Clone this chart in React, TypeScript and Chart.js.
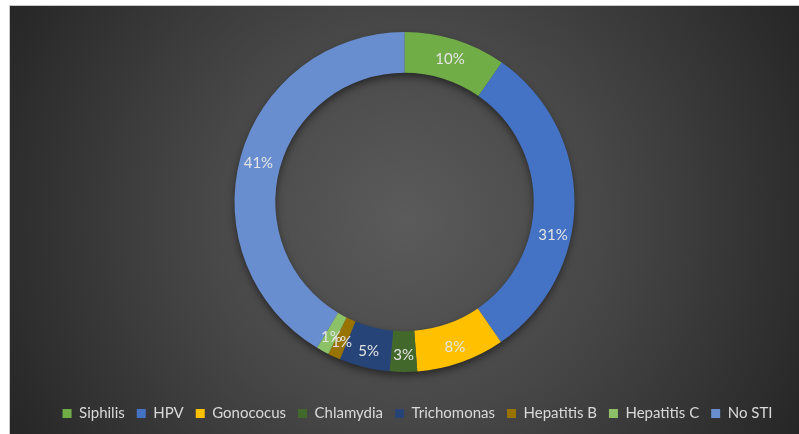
import React, { useEffect, useRef } from "react";
import { Chart, registerables } from "chart.js";

Chart.register(...registerables);

const categories = [
  "Siphilis",
  "HPV",
  "Gonococus",
  "Chlamydia",
  "Trichomonas",
  "Hepatitis B",
  "Hepatitis C",
  "No STI",
];
// estimated shares (percent); labels show them rounded
const shares = [9.7, 30.7, 8.4, 2.6, 4.8, 1.2, 1.2, 41.4];
const sliceColors = [
  "#70AD47",
  "#4472C4",
  "#FFC000",
  "#43682B",
  "#264478",
  "#997300",
  "#8CC168",
  "#698ED0",
];

const FONT = "Lato, 'Open Sans', sans-serif";
// angular nudge (degrees, clockwise) applied to a label placed off-centre in the original
const LABEL_NUDGE_DEG: Record<number, number> = { 1: 11.5 };

const ringShadow = {
  id: "ringShadow",
  beforeDatasetsDraw(chart: any) {
    const arc = chart.getDatasetMeta(0).data[0];
    if (!arc) return;
    const { x, y, innerRadius, outerRadius } = arc;
    const ctx = chart.ctx;
    ctx.save();
    ctx.shadowColor = "rgba(0,0,0,0.55)";
    ctx.shadowBlur = 9;
    ctx.shadowOffsetY = 4;
    ctx.fillStyle = "#505050";
    ctx.beginPath();
    ctx.arc(x, y, outerRadius - 1, 0, Math.PI * 2);
    ctx.arc(x, y, innerRadius + 1, 0, Math.PI * 2, true);
    ctx.fill();
    ctx.restore();
  },
};

const valueLabels = {
  id: "valueLabels",
  afterDatasetsDraw(chart: any) {
    const meta = chart.getDatasetMeta(0);
    const ctx = chart.ctx;
    ctx.save();
    ctx.font = `15px ${FONT}`;
    ctx.fillStyle = "#e4e4e4";
    ctx.textAlign = "center";
    ctx.textBaseline = "middle";
    meta.data.forEach((arc: any, i: number) => {
      const { x, y, startAngle, endAngle, innerRadius, outerRadius } = arc;
      const mid = (startAngle + endAngle) / 2 + ((LABEL_NUDGE_DEG[i] || 0) * Math.PI) / 180;
      const r = (innerRadius + outerRadius) / 2 + 2;
      ctx.fillText(
        `${Math.round(shares[i])}%`,
        x + Math.cos(mid) * r,
        y + Math.sin(mid) * r + 2
      );
    });
    ctx.restore();
  },
};

const legendShift = {
  id: "legendShift",
  afterLayout(chart: any) {
    if (chart.legend) {
      chart.legend.left += 13;
      chart.legend.right += 13;
    }
  },
};

export default function App() {
  const ref = useRef<HTMLCanvasElement | null>(null);

  useEffect(() => {
    if (!ref.current) return;
    const chart = new Chart(ref.current, {
      type: "doughnut",
      data: {
        labels: categories,
        datasets: [
          {
            data: shares,
            backgroundColor: sliceColors,
            borderWidth: 0,
          },
        ],
      },
      options: {
        responsive: false,
        animation: false,
        cutout: "76%",
        layout: { padding: { top: 26, bottom: 3, left: 0, right: 0 } },
        plugins: {
          tooltip: { enabled: false },
          legend: {
            position: "bottom",
            title: {
              display: true,
              text: "",
              font: { size: 1, lineHeight: 1 },
              padding: { top: 21, bottom: 0 },
            },
            labels: {
              boxWidth: 9,
              boxHeight: 9,
              padding: 12,
              color: "#d9d9d9",
              font: { family: FONT, size: 15 },
            },
          },
        },
      },
      plugins: [ringShadow, valueLabels, legendShift],
    });
    return () => chart.destroy();
  }, []);

  return (
    <div
      style={{
        position: "absolute",
        left: 9,
        top: 5,
        width: 790,
        height: 429,
        borderLeft: "1px solid #c9c9c9",
        borderTop: "1px solid #c9c9c9",
        boxSizing: "border-box",
        background:
          "radial-gradient(circle at 50% 50%, #5b5b5b 0%, #474747 45%, #262626 100%)",
      }}
    >
      <canvas ref={ref} width={789} height={428} style={{ display: "block" }} />
    </div>
  );
}
